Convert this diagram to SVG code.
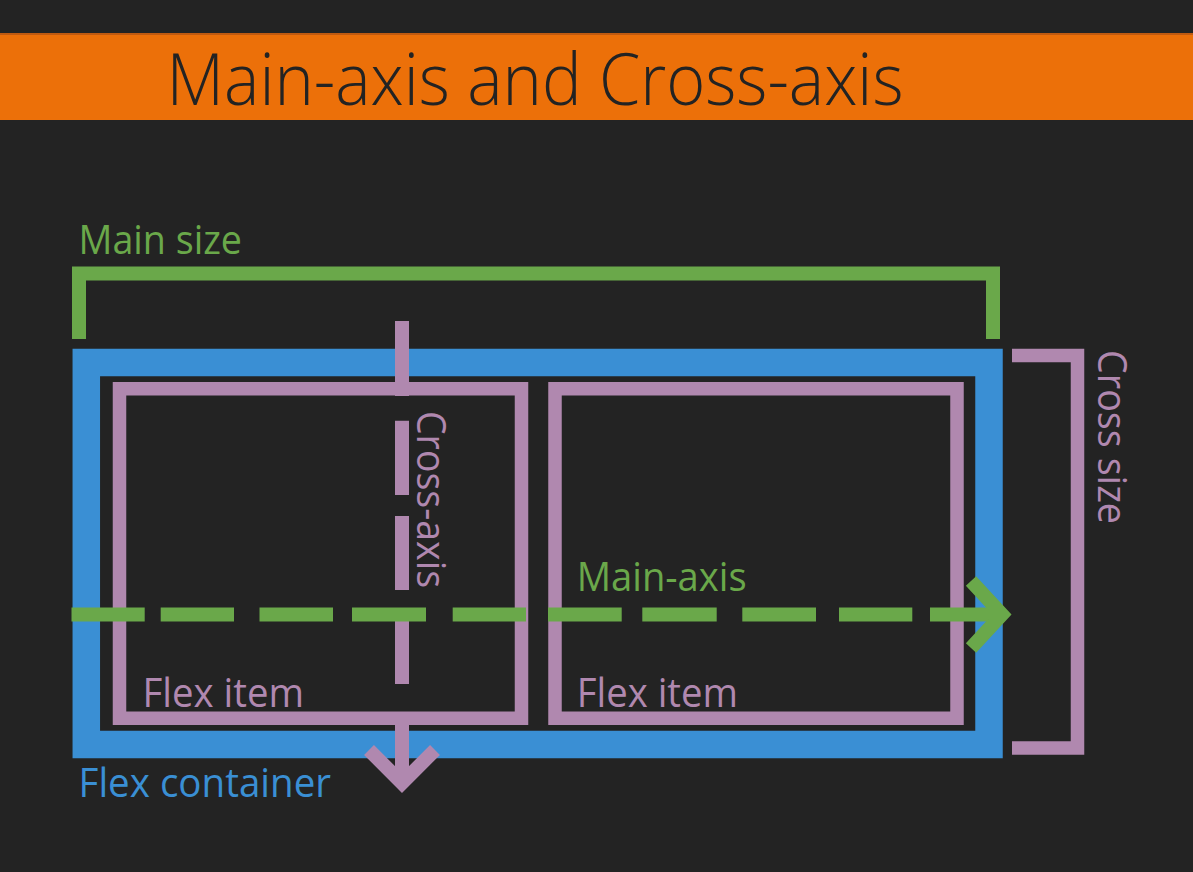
<svg xmlns="http://www.w3.org/2000/svg" width="1193" height="872" viewBox="0 0 1193 872">
<style>
.lbl{font-family:"Open Sans","Noto Sans","Liberation Sans",sans-serif;font-size:41px}
.g{fill:#6AA84A}.p{fill:#B088AF}.b{fill:#3A8FD4}
.gs{fill:none;stroke:#6AA84A;stroke-width:14}
.ps{fill:none;stroke:#B088AF;stroke-width:13.5}
</style>
<rect x="0" y="0" width="1193" height="872" fill="#232323"/>
<g id="title">
<rect x="0" y="33" width="1193" height="87" fill="#EC7009"/>
<rect x="0" y="33" width="1193" height="2" fill="#C05A10"/>
<text x="166.5" y="105" font-family="'Open Sans','Noto Sans','Liberation Sans',sans-serif" font-weight="300" font-size="72" fill="#232323" textLength="737" lengthAdjust="spacingAndGlyphs">Main-axis and Cross-axis</text>
</g>
<g id="main-size">
<path class="gs" d="M79,339 V273.5 H993 V339"/>
<text class="lbl g" x="78.5" y="254" textLength="163.5" lengthAdjust="spacingAndGlyphs">Main size</text>
</g>
<g id="flex-container">
<rect x="86.3" y="362.5" width="902.7" height="382" fill="none" stroke="#3A8FD4" stroke-width="27.5"/>
<text class="lbl b" x="78.5" y="797" textLength="252.5" lengthAdjust="spacingAndGlyphs">Flex container</text>
</g>
<g id="flex-item-1">
<rect class="ps" x="119.5" y="388.75" width="402" height="329.5"/>
<text class="lbl p" x="142.4" y="707" textLength="161.6" lengthAdjust="spacingAndGlyphs">Flex item</text>
</g>
<g id="flex-item-2">
<rect class="ps" x="555" y="388.75" width="402" height="329.5"/>
<text class="lbl p" x="576.7" y="707" textLength="161.3" lengthAdjust="spacingAndGlyphs">Flex item</text>
</g>
<g id="cross-size">
<path class="ps" d="M1012,355.5 H1077.5 V748 H1012"/>
<text class="lbl p" transform="translate(1098,350) rotate(90)" x="0" y="0" textLength="174" lengthAdjust="spacingAndGlyphs">Cross size</text>
</g>
<g id="connectors">
<path d="M402,321 V396 M402,420.7 V495 M402,516 V590 M402,610 V684 M402,712 V784" fill="none" stroke="#B088AF" stroke-width="14"/>
<polyline points="369,750 402,783 435,750" fill="none" stroke="#B088AF" stroke-width="14" stroke-linejoin="miter"/>
<path d="M71.5,614.5 H144.7 M160.7,614.5 H234 M259.5,614.5 H333 M352,614.5 H426 M452.7,614.5 H526 M548,614.5 H621.7 M642.3,614.5 H716.7 M742.3,614.5 H816 M839,614.5 H912.3 M930,614.5 H1001" fill="none" stroke="#6AA84A" stroke-width="14"/>
<polyline points="971,581 1002,614.5 971,648" fill="none" stroke="#6AA84A" stroke-width="14" stroke-linejoin="miter"/>
</g>
<g id="axis-labels">
<text class="lbl p" transform="translate(417,411) rotate(90)" x="0" y="0" textLength="177" lengthAdjust="spacingAndGlyphs">Cross-axis</text>
<text class="lbl g" x="576.7" y="591" textLength="170" lengthAdjust="spacingAndGlyphs">Main-axis</text>
</g>
</svg>
